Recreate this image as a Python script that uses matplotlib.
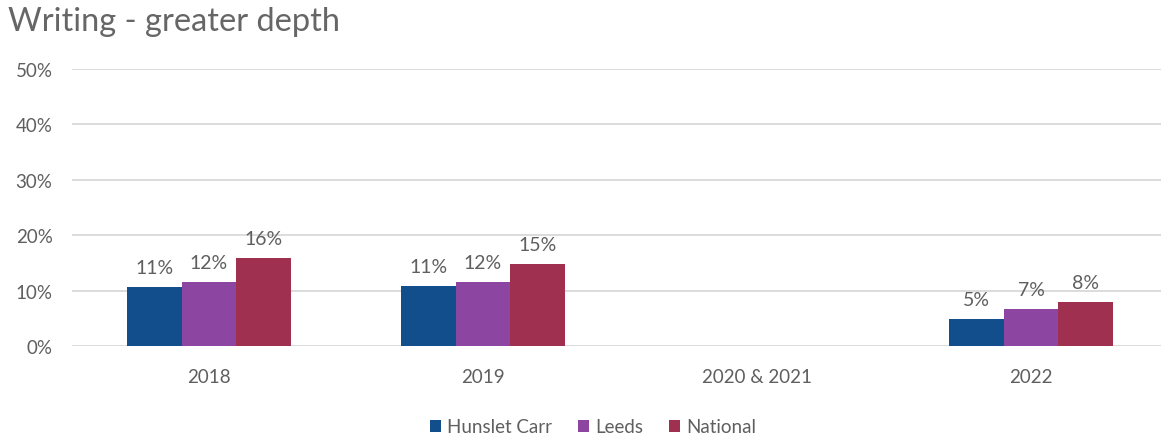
import numpy as np
import matplotlib.pyplot as plt

# Writing at greater depth, % of pupils
years = ['2018', '2019', '2020 & 2021', '2022']
hunslet_carr = [10.7, 10.9, np.nan, 4.9]
leeds = [11.6, 11.6, np.nan, 6.7]
national = [15.9, 14.8, np.nan, 8.0]
series_names = ['Hunslet Carr', 'Leeds', 'National']
colours = ['#124E8C', '#8C45A0', '#A0304F']
y_ticks = [0, 10, 20, 30, 40, 50]

grey = '#5f5f5f'
plt.rcParams['font.family'] = ['Lato', 'DejaVu Sans']

fig = plt.figure(figsize=(11.61, 4.39), dpi=100)
ax = fig.add_axes([72 / 1161, 1 - 347 / 439, 1096 / 1161, 277 / 439])

x = np.arange(len(years))
width = 0.2
for i, (vals, name, col) in enumerate(zip([hunslet_carr, leeds, national], series_names, colours)):
    pos = x + (i - 1) * width
    ax.bar(pos, vals, width, color=col, label=name, zorder=3)
    for p, v in zip(pos, vals):
        if np.isnan(v):
            continue
        ax.text(p, v + 2.0, f'{v:.0f}%', ha='center', va='bottom', fontsize=14, color=grey)

ax.set_xlim(-0.5, len(years) - 0.5)
ax.set_ylim(0, 50)
ax.set_yticks(y_ticks)
ax.set_yticklabels([f'{t}%' for t in y_ticks])
ax.set_xticks(x)
ax.set_xticklabels(years)
ax.grid(axis='y', color='#D9D9D9', linewidth=1.3, zorder=0)
for s in ax.spines.values():
    s.set_visible(False)
ax.tick_params(axis='both', length=0, colors=grey, labelsize=13.5)
ax.tick_params(axis='y', pad=14)
ax.tick_params(axis='x', pad=16)

fig.text(8 / 1161, 1 - 22 / 439, 'Writing - greater depth', fontsize=23.5, color='#666666', va='center', ha='left')

fig.legend(loc='center', bbox_to_anchor=(593 / 1161, 1 - 428 / 439), ncol=3, frameon=False,
           fontsize=13.5, labelcolor=grey, handlelength=0.6, handleheight=0.6, handletextpad=0.3,
           columnspacing=1.4)

fig.savefig('out.png', dpi=100)
